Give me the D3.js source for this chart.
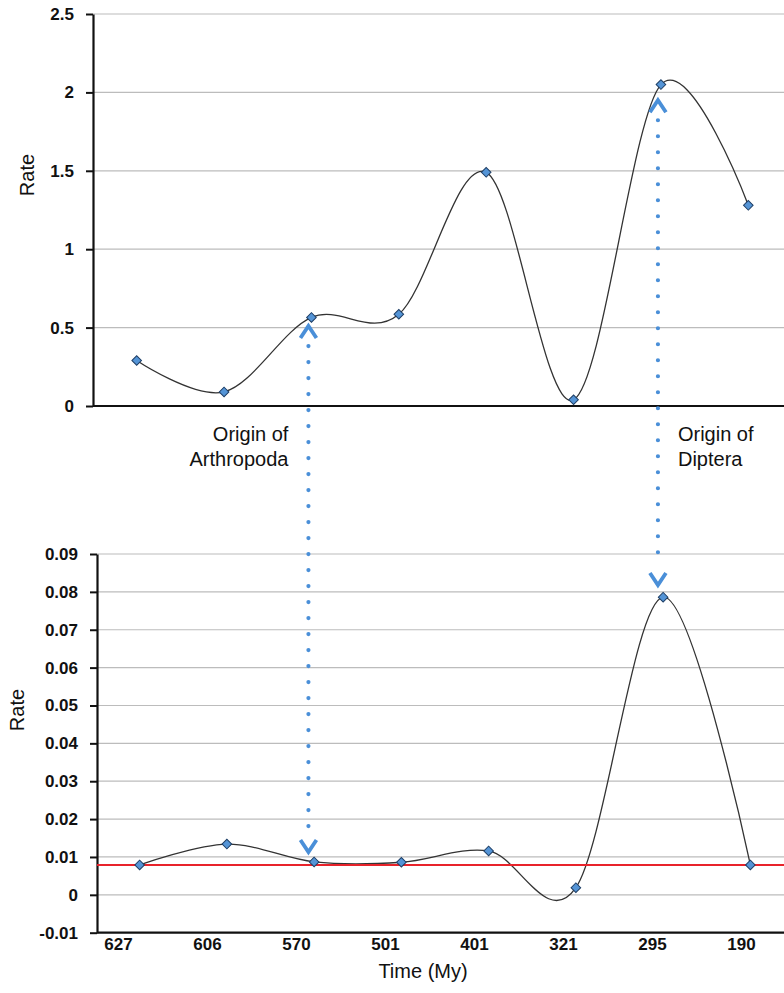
<!DOCTYPE html>
<html>
<head>
<meta charset="utf-8">
<script src="https://cdn.jsdelivr.net/npm/d3@7"></script>
<style>
  body { margin: 0; background: white; }
  text { font-family: "Liberation Sans", Arial, Helvetica, sans-serif; fill: #111; }
</style>
</head>
<body>
<div id="canvas"></div>
<script>
var w = 784;
var h = 993;

// data
var categories = ["627", "606", "570", "501", "401", "321", "295", "190"];
var topRates = [0.29, 0.09, 0.565, 0.585, 1.49, 0.04, 2.05, 1.28];
var bottomRates = [0.0079, 0.0134, 0.0087, 0.0086, 0.0116, 0.0019, 0.0786, 0.0079];
var baselineRate = 0.0079;
var topTicks = [0, 0.5, 1, 1.5, 2, 2.5];
var bottomTicks = [-0.01, 0, 0.01, 0.02, 0.03, 0.04, 0.05, 0.06, 0.07, 0.08, 0.09];
var originCats = ["570", "295"];
var originLabels = [["Origin of", "Arthropoda"], ["Origin of", "Diptera"]];
var originTopEnds = [0.51, 1.95];      // arrow tip in top chart units
var originBottomEnds = [0.0113, 0.0818]; // arrow tip in bottom chart units

var blue = "#4a8fd8";

var svg = d3.select("#canvas").append("svg")
  .attr("width", w)
  .attr("height", h)
  .style("background-color", "white");

// ---- scales
var xTop = d3.scaleBand().domain(categories).range([93, 792]);
var xBot = d3.scaleBand().domain(categories).range([96, 794]);
var xLab = d3.scaleBand().domain(categories).range([74, 786]);
var yTop = d3.scaleLinear().domain([0, 2.5]).range([406, 14]);
var yBot = d3.scaleLinear().domain([-0.01, 0.09]).range([932.7, 554]);

function cx(scale) {
  return function(c) { return scale(c) + scale.bandwidth() / 2; };
}
var cxTop = cx(xTop), cxBot = cx(xBot), cxLab = cx(xLab);

var line = function(xf, yf) {
  return d3.line()
    .x(function(d, i) { return xf(categories[i]); })
    .y(function(d) { return yf(d); })
    .curve(d3.curveCardinal.tension(0));
};

function panel(g, xf, yScale, ticks, values, x0) {
  // gridlines
  g.selectAll(".grid")
    .data(ticks.slice(1))
    .join("line")
    .attr("x1", x0).attr("x2", w)
    .attr("y1", function(d) { return yScale(d); })
    .attr("y2", function(d) { return yScale(d); })
    .attr("stroke", "#bcbcbc")
    .attr("stroke-width", 1.2);

  // bottom axis line
  g.append("line")
    .attr("x1", x0).attr("x2", w)
    .attr("y1", yScale(ticks[0])).attr("y2", yScale(ticks[0]))
    .attr("stroke", "#111").attr("stroke-width", 2.2);

  // y axis
  var ax = g.append("g")
    .attr("transform", "translate(" + x0 + ",0)")
    .call(d3.axisLeft(yScale).tickValues(ticks).tickSize(7).tickSizeOuter(0)
      .tickPadding(12)
      .tickFormat(function(d) { return String(d); }));
  ax.select(".domain").attr("stroke", "#111").attr("stroke-width", 2.2);
  ax.selectAll(".tick line").attr("stroke", "#111").attr("stroke-width", 2);
  ax.selectAll(".tick text")
    .style("font-family", "'Liberation Sans', Arial, sans-serif")
    .style("font-size", "17px")
    .style("font-weight", "bold")
    .attr("fill", "#222");

  // smoothed line
  g.append("path")
    .datum(values)
    .attr("d", line(xf, yScale))
    .attr("fill", "none")
    .attr("stroke", "#333")
    .attr("stroke-width", 1.3);
}

var gTop = svg.append("g");
panel(gTop, cxTop, yTop, topTicks, topRates, 93);

var gBot = svg.append("g");
panel(gBot, cxBot, yBot, bottomTicks, bottomRates, 97);

// red reference line
gBot.append("line")
  .attr("x1", 97).attr("x2", w)
  .attr("y1", yBot(baselineRate)).attr("y2", yBot(baselineRate))
  .attr("stroke", "#e8232b")
  .attr("stroke-width", 2);

// markers
function markers(g, xf, yScale, values) {
  g.selectAll(".mk")
    .data(values)
    .join("path")
    .attr("transform", function(d, i) {
      return "translate(" + xf(categories[i]) + "," + yScale(d) + ") rotate(45)";
    })
    .attr("d", d3.symbol().type(d3.symbolSquare).size(46))
    .attr("fill", "#5494d6")
    .attr("stroke", "#1f3f66")
    .attr("stroke-width", 1);
}
markers(gTop, cxTop, yTop, topRates);
markers(gBot, cxBot, yBot, bottomRates);

// x tick labels (bottom chart)
svg.selectAll(".xlab")
  .data(categories)
  .join("text")
  .attr("x", function(d) { return cxLab(d); })
  .attr("y", 950)
  .attr("text-anchor", "middle")
  .style("font-size", "17px")
  .style("font-weight", "bold")
  .attr("fill", "#222")
  .text(function(d) { return d; });

svg.append("text")
  .attr("x", 423).attr("y", 978)
  .attr("text-anchor", "middle")
  .style("font-size", "20px")
  .text("Time (My)");

// y titles
svg.append("text")
  .attr("transform", "translate(34,175) rotate(-90)")
  .attr("text-anchor", "middle")
  .style("font-size", "20px")
  .text("Rate");
svg.append("text")
  .attr("transform", "translate(24,710) rotate(-90)")
  .attr("text-anchor", "middle")
  .style("font-size", "20px")
  .text("Rate");

// origin arrows
originCats.forEach(function(c, i) {
  var x = cxTop(c) - 3;
  var t = yTop(originTopEnds[i]);
  var b = yBot(originBottomEnds[i]);
  var g = svg.append("g");
  g.append("line")
    .attr("x1", x).attr("x2", x)
    .attr("y1", t + 20).attr("y2", b - 22)
    .attr("stroke", blue)
    .attr("stroke-width", 4.2)
    .attr("stroke-linecap", "round")
    .attr("stroke-dasharray", "0 16");
  g.append("path")
    .attr("d", "M" + (x - 8) + "," + (t + 12) + "L" + x + "," + t + "L" + (x + 8) + "," + (t + 12))
    .attr("fill", "none").attr("stroke", blue).attr("stroke-width", 3.8);
  g.append("path")
    .attr("d", "M" + (x - 8) + "," + (b - 12) + "L" + x + "," + b + "L" + (x + 8) + "," + (b - 12))
    .attr("fill", "none").attr("stroke", blue).attr("stroke-width", 3.8);

  var right = i === 0;
  g.selectAll("text")
    .data(originLabels[i])
    .join("text")
    .attr("x", right ? x - 20 : x + 20)
    .attr("y", function(d, j) { return 441 + j * 25; })
    .attr("text-anchor", right ? "end" : "start")
    .style("font-size", "20px")
    .text(function(d) { return d; });
});
</script>
</body>
</html>
